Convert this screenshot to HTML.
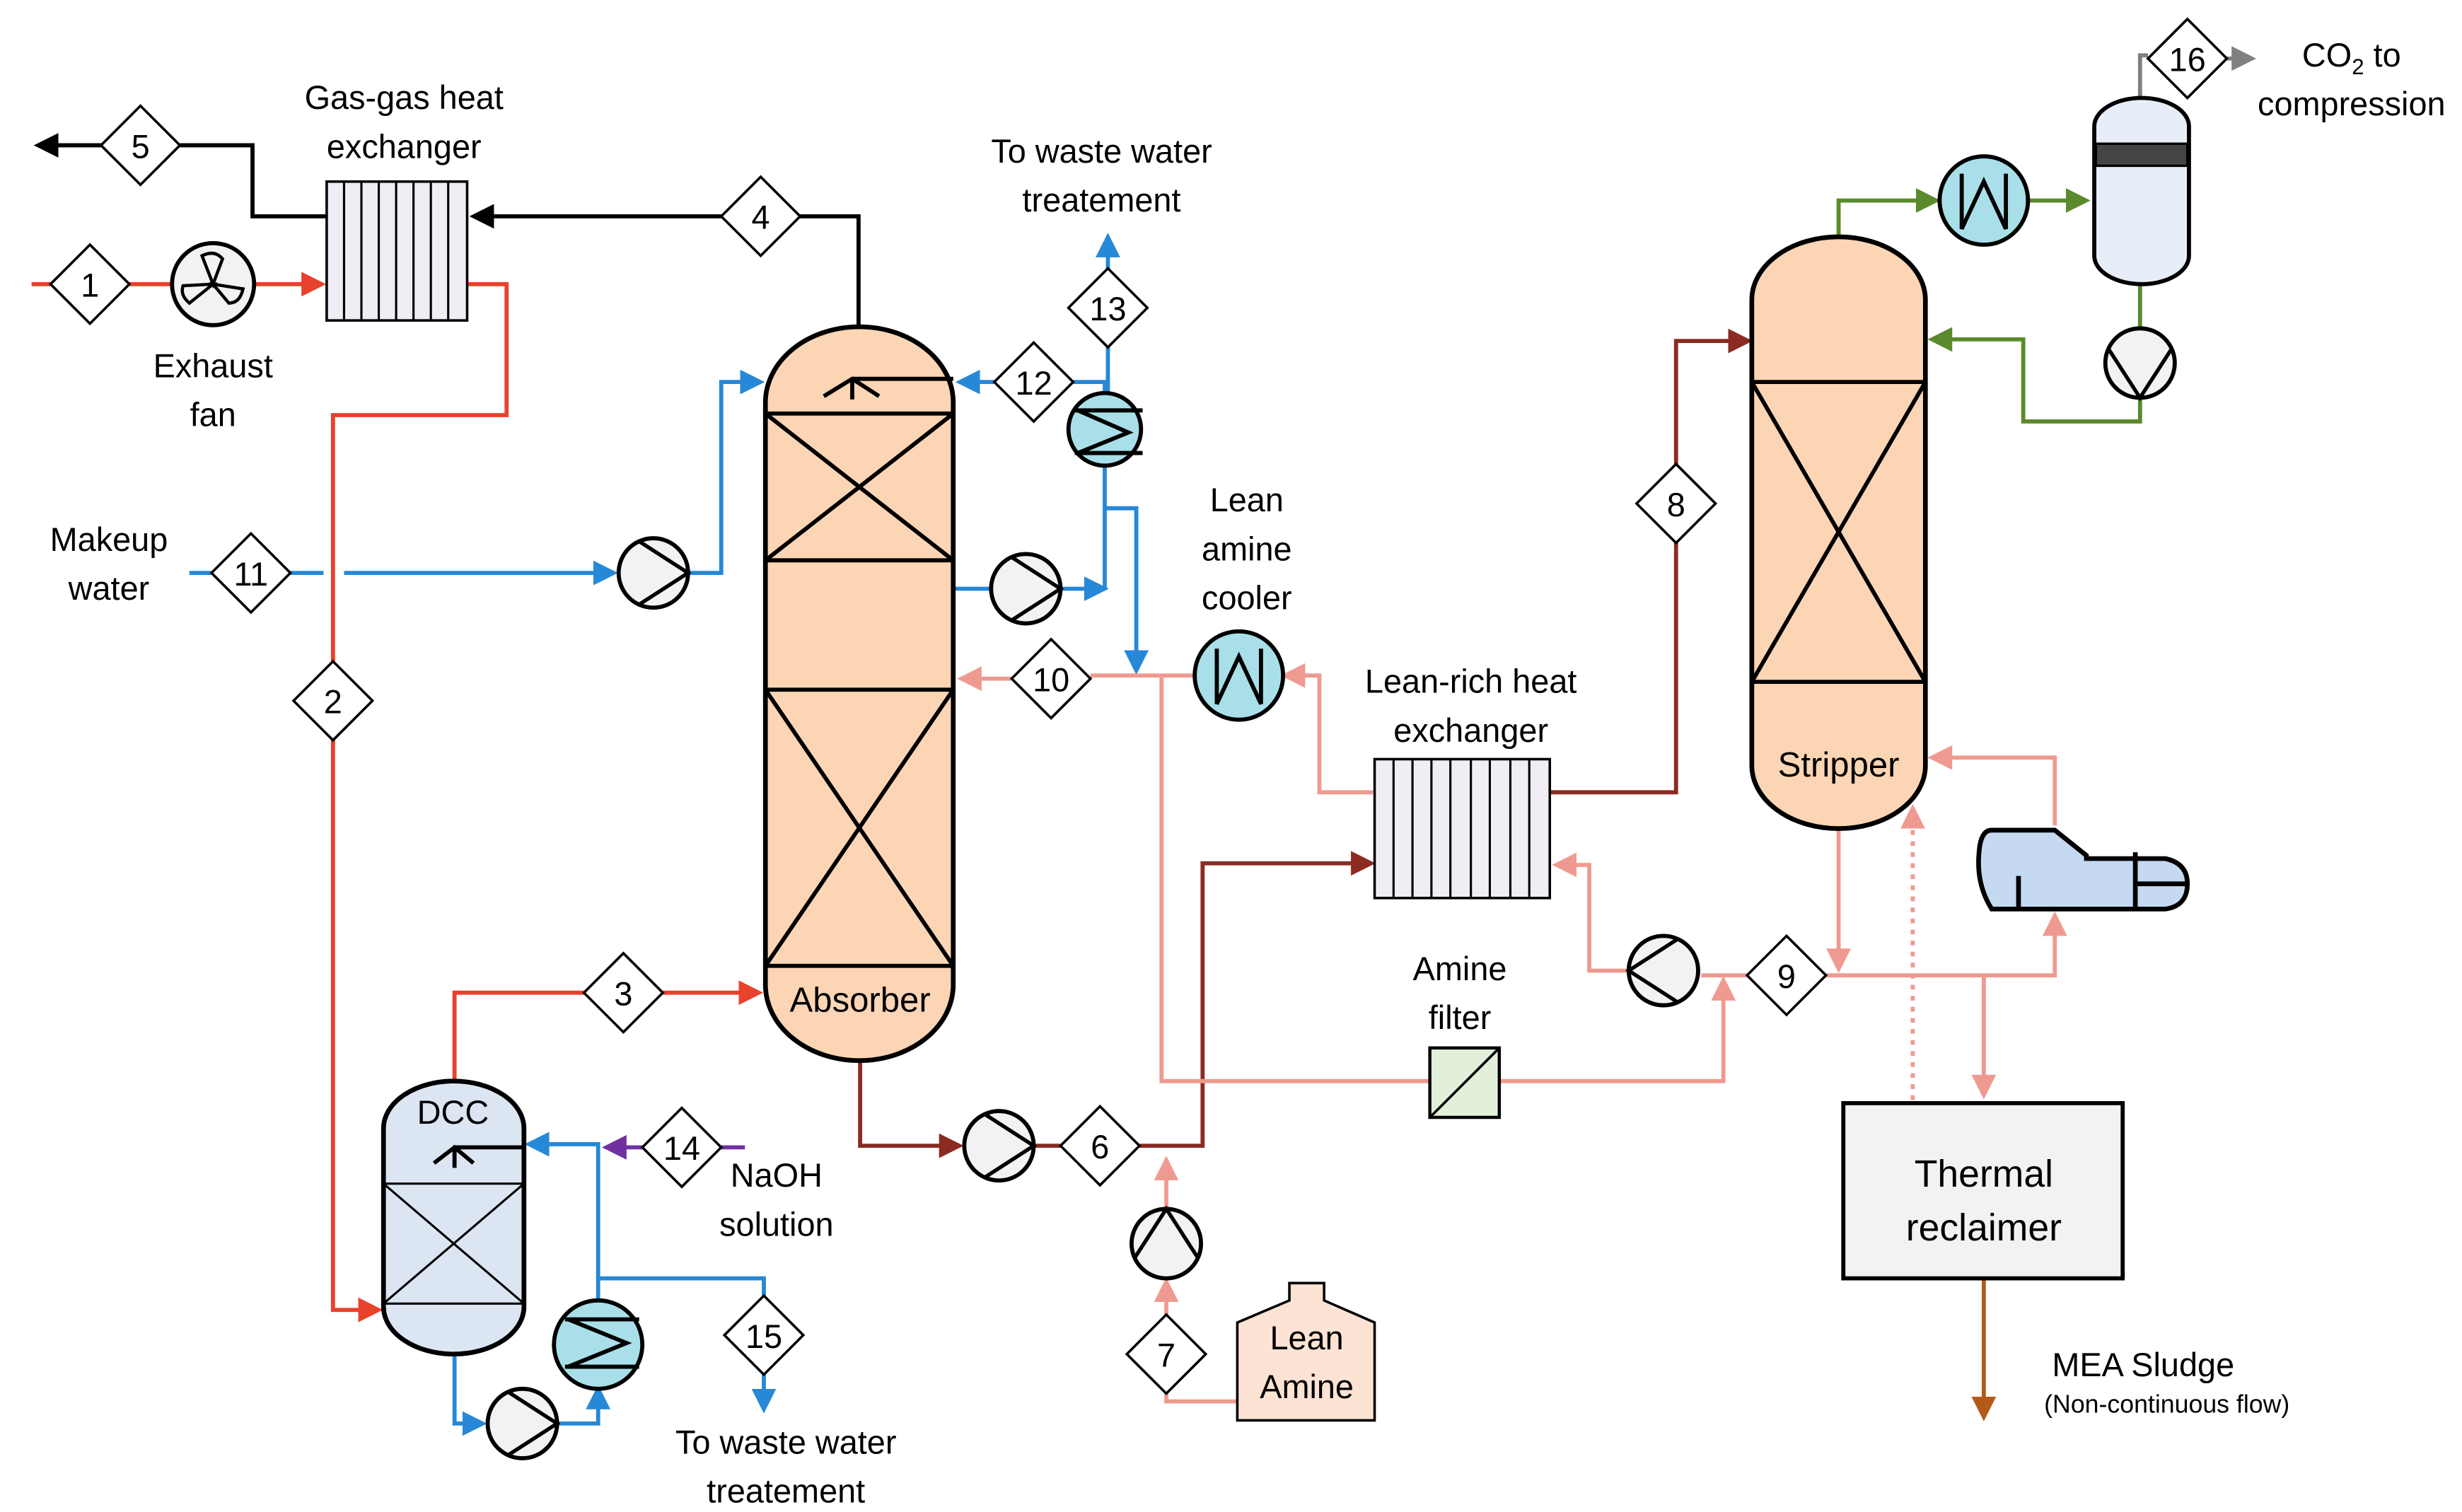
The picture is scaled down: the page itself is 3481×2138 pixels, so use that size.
<!DOCTYPE html>
<html><head><meta charset="utf-8"><style>html,body{margin:0;padding:0;background:#fff}svg{display:block}</style></head>
<body>
<svg width="3481" height="2138" viewBox="0 0 1560 958" xmlns="http://www.w3.org/2000/svg" font-family="Liberation Sans, sans-serif">
<defs>
<marker id="aK" markerWidth="6" markerHeight="6" refX="5" refY="3" orient="auto" markerUnits="strokeWidth"><path d="M0,0L6,3L0,6z" fill="#000"/></marker>
<marker id="aR" markerWidth="6" markerHeight="6" refX="5" refY="3" orient="auto" markerUnits="strokeWidth"><path d="M0,0L6,3L0,6z" fill="#e8412c"/></marker>
<marker id="aB" markerWidth="6" markerHeight="6" refX="5" refY="3" orient="auto" markerUnits="strokeWidth"><path d="M0,0L6,3L0,6z" fill="#2688d6"/></marker>
<marker id="aD" markerWidth="6" markerHeight="6" refX="5" refY="3" orient="auto" markerUnits="strokeWidth"><path d="M0,0L6,3L0,6z" fill="#8b2b22"/></marker>
<marker id="aP" markerWidth="6" markerHeight="6" refX="5" refY="3" orient="auto" markerUnits="strokeWidth"><path d="M0,0L6,3L0,6z" fill="#ef9a90"/></marker>
<marker id="aG" markerWidth="6" markerHeight="6" refX="5" refY="3" orient="auto" markerUnits="strokeWidth"><path d="M0,0L6,3L0,6z" fill="#5a8a2c"/></marker>
<marker id="aV" markerWidth="6" markerHeight="6" refX="5" refY="3" orient="auto" markerUnits="strokeWidth"><path d="M0,0L6,3L0,6z" fill="#7030a0"/></marker>
<marker id="aY" markerWidth="6" markerHeight="6" refX="5" refY="3" orient="auto" markerUnits="strokeWidth"><path d="M0,0L6,3L0,6z" fill="#808080"/></marker>
<marker id="aO" markerWidth="6" markerHeight="6" refX="5" refY="3" orient="auto" markerUnits="strokeWidth"><path d="M0,0L6,3L0,6z" fill="#b35a1a"/></marker>
<g id="dia"><path d="M0,-25L25,0L0,25L-25,0z" fill="#fff" stroke="#000" stroke-width="1.6"/></g>
<g id="pump"><circle r="22" fill="#f2f2f2" stroke="#000" stroke-width="2.6"/><path d="M-9,-20L22,0L-9,20" fill="none" stroke="#000" stroke-width="2.4"/></g>
</defs>
<g fill="none" stroke-width="2.6">
<path d="M65,92H24" stroke="#000" marker-end="url(#aK)"/>
<path d="M114,92H160V137H207" stroke="#000"/>
<path d="M544,207V137H507M457,137H300" stroke="#000" marker-end="url(#aK)"/>
<path d="M20,180H32M82,180H108M162,180H204" stroke="#e8412c" marker-end="url(#aR)"/>
<path d="M296,180H321V263H211V419M211,469V830H240" stroke="#e8412c" marker-end="url(#aR)"/>
<path d="M288,685V629H370M420,629H481" stroke="#e8412c" marker-end="url(#aR)"/>
<path d="M120,363H134M184,363H205M218,363H389" stroke="#2688d6" marker-end="url(#aB)"/>
<path d="M437,363H457V242H482" stroke="#2688d6" marker-end="url(#aB)"/>
<path d="M700,248V242H680M630,242H608" stroke="#2688d6" marker-end="url(#aB)"/>
<path d="M702,220V248M702,170V150" stroke="#2688d6" marker-end="url(#aB)"/>
<path d="M604,373H628M672,373H700" stroke="#2688d6" marker-end="url(#aB)"/>
<path d="M700,373V296M701,322H720V425" stroke="#2688d6" marker-end="url(#aB)"/>
<path d="M288,858V902H306" stroke="#2688d6" marker-end="url(#aB)"/>
<path d="M353,902H379V880" stroke="#2688d6" marker-end="url(#aB)"/>
<path d="M379,824V725H335" stroke="#2688d6" marker-end="url(#aB)"/>
<path d="M379,810H484V821M484,871V893" stroke="#2688d6" marker-end="url(#aB)"/>
<path d="M472,727H457M407,727H384" stroke="#7030a0" marker-end="url(#aV)"/>
<path d="M545,672V726H608" stroke="#8b2b22" marker-end="url(#aD)"/>
<path d="M655,726H672M722,726H762V547H869" stroke="#8b2b22" marker-end="url(#aD)"/>
<path d="M982,502H1062V344M1062,294V216H1108" stroke="#8b2b22" marker-end="url(#aD)"/>
<path d="M784,888H739V883M739,833V812" stroke="#ef9a90" marker-end="url(#aP)"/>
<path d="M739,765V735" stroke="#ef9a90" marker-end="url(#aP)"/>
<path d="M1165,525V614" stroke="#ef9a90" marker-end="url(#aP)"/>
<path d="M1157,618H1302V580" stroke="#ef9a90" marker-end="url(#aP)"/>
<path d="M1302,523V480H1224" stroke="#ef9a90" marker-end="url(#aP)"/>
<path d="M1257,618V694" stroke="#ef9a90" marker-end="url(#aP)"/>
<path d="M1107,618H1078" stroke="#ef9a90"/>
<path d="M1031,615H1007V548H986" stroke="#ef9a90" marker-end="url(#aP)"/>
<path d="M736,428V685H906M950,685H1092V621" stroke="#ef9a90" marker-end="url(#aP)"/>
<path d="M870,502H836V428H814" stroke="#ef9a90" marker-end="url(#aP)"/>
<path d="M757,428H691M641,430H609" stroke="#ef9a90" marker-end="url(#aP)"/>
<path d="M1212,697V512" stroke="#ef9a90" stroke-dasharray="3,4" marker-end="url(#aP)"/>
<path d="M1257,810V898" stroke="#b35a1a" marker-end="url(#aO)"/>
<path d="M1165,150V127H1227" stroke="#5a8a2c" marker-end="url(#aG)"/>
<path d="M1285,127H1322" stroke="#5a8a2c" marker-end="url(#aG)"/>
<path d="M1356,180V208M1356,252V267H1282V215H1224" stroke="#5a8a2c" marker-end="url(#aG)"/>
<path d="M1356,62V35H1361M1411,37H1427" stroke="#808080" marker-end="url(#aY)"/>
</g>
<rect x="207" y="115" width="89" height="88" fill="#f0eef4" stroke="#000" stroke-width="1.6"/>
<path d="M218,115V203M229,115V203M240,115V203M251,115V203M262,115V203M273,115V203M284,115V203" stroke="#000" stroke-width="1.4"/>
<rect x="871" y="481" width="111" height="88" fill="#f0eef4" stroke="#000" stroke-width="1.6"/>
<path d="M883,481V569M895,481V569M907,481V569M919,481V569M932,481V569M944,481V569M957,481V569M969,481V569" stroke="#000" stroke-width="1.4"/>
<circle cx="135" cy="180" r="26" fill="#f2f2f2" stroke="#000" stroke-width="2.6"/>
<g fill="none" stroke="#000" stroke-width="2"><path d="M135,180L128,162Q136,158 141,164z M135,180L154,183Q152,192 145,192z M135,180L120,192Q114,187 116,181z"/></g>
<rect x="485" y="207" width="119" height="465" rx="59.5" ry="48" fill="#fcd5b5" stroke="#000" stroke-width="3"/>
<path d="M485,262H604M485,355H604M485,437H604M485,612H604M485,262L604,355M604,262L485,355M485,437L604,612M604,437L485,612" stroke="#000" stroke-width="2.6"/>
<path d="M604,240H540M522,251L540,240L557,251M540,240V253" fill="none" stroke="#000" stroke-width="2.6"/>
<rect x="1110" y="150" width="110" height="375" rx="55" ry="40" fill="#fcd5b5" stroke="#000" stroke-width="3"/>
<path d="M1110,242H1220M1110,432H1220M1110,242L1220,432M1220,242L1110,432" stroke="#000" stroke-width="2.6"/>
<rect x="243" y="685" width="89" height="173" rx="44.5" ry="30" fill="#dce6f2" stroke="#000" stroke-width="3"/>
<path d="M243,750H332M243,826H332M243,750L332,826M332,750L243,826" stroke="#000" stroke-width="1.4"/>
<path d="M332,727H288M275,737L288,727L300,737M288,727V740" fill="none" stroke="#000" stroke-width="2.6"/>
<rect x="1327" y="62" width="60" height="118" rx="30" ry="18" fill="#e8eef7" stroke="#000" stroke-width="2.6"/>
<rect x="1328" y="91" width="58" height="14" fill="#444" stroke="#000" stroke-width="1.5"/>
<g stroke="#000" stroke-width="2.6" fill="#a9dfe9">
<circle cx="1257" cy="127" r="28"/><circle cx="700" cy="272" r="23"/><circle cx="785" cy="428" r="28"/><circle cx="379" cy="852" r="28"/>
</g>
<g fill="none" stroke="#000" stroke-width="2.6">
<path d="M1243,110V145L1257,115L1271,145V110"/>
<path d="M771,411V446L785,416L799,446V411"/>
<path d="M681,260H724M681,287H724M683,260L715,274L683,287"/>
<path d="M358,836H405M358,866H405M360,836L397,851L360,866"/>
</g>
<use href="#pump" x="414" y="363"/>
<use href="#pump" x="650" y="373"/>
<use href="#pump" x="633" y="726"/>
<use href="#pump" x="331" y="902"/>
<use href="#pump" transform="translate(739,788) rotate(-90)"/>
<use href="#pump" transform="translate(1054,615) rotate(180)"/>
<use href="#pump" transform="translate(1356,230) rotate(90)"/>
<rect x="906" y="664" width="44" height="44" fill="#e2efd9" stroke="#000" stroke-width="2"/>
<path d="M906,708L950,664" stroke="#000" stroke-width="1.6"/>
<rect x="1168" y="699" width="177" height="111" fill="#f2f2f2" stroke="#000" stroke-width="2.6"/>
<path d="M1262,526H1302L1322,542V544H1372Q1386,547 1386,560Q1386,574 1372,576H1262Q1252,560 1254,540Q1255,526 1262,526z" fill="#c5daf0" stroke="#000" stroke-width="3"/>
<path d="M1279,576V555M1353,576V540M1353,560H1386" stroke="#000" stroke-width="3"/>
<path d="M784,900V838L817,824V813H839V824L871,838V900z" fill="#fde3d3" stroke="#000" stroke-width="1.6"/>
<use href="#dia" x="89" y="92"/><use href="#dia" x="57" y="180"/><use href="#dia" x="211" y="444"/>
<use href="#dia" x="395" y="629"/><use href="#dia" x="482" y="137"/><use href="#dia" x="697" y="726"/>
<use href="#dia" x="739" y="858"/><use href="#dia" x="1062" y="319"/><use href="#dia" x="1132" y="618"/>
<use href="#dia" x="666" y="430"/><use href="#dia" x="159" y="363"/><use href="#dia" x="655" y="242"/>
<use href="#dia" x="702" y="195"/><use href="#dia" x="432" y="727"/><use href="#dia" x="484" y="846"/>
<use href="#dia" x="1386" y="37"/>
<g font-size="21" text-anchor="middle" fill="#000">
<text x="89" y="100">5</text><text x="57" y="188">1</text><text x="211" y="452">2</text>
<text x="395" y="637">3</text><text x="482" y="145">4</text><text x="697" y="734">6</text>
<text x="739" y="866">7</text><text x="1062" y="327">8</text><text x="1132" y="626">9</text>
<text x="666" y="438">10</text><text x="159" y="371">11</text><text x="655" y="250">12</text>
<text x="702" y="203">13</text><text x="432" y="735">14</text><text x="484" y="854">15</text>
<text x="1386" y="45">16</text>
<text x="256" y="69">Gas-gas heat</text><text x="256" y="100">exchanger</text>
<text x="135" y="239">Exhaust</text><text x="135" y="270">fan</text>
<text x="69" y="349">Makeup</text><text x="69" y="380">water</text>
<text x="698" y="103">To waste water</text><text x="698" y="134">treatement</text>
<text x="790" y="324">Lean</text><text x="790" y="355">amine</text><text x="790" y="386">cooler</text>
<text x="932" y="439">Lean-rich heat</text><text x="932" y="470">exchanger</text>
<text x="925" y="621">Amine</text><text x="925" y="652">filter</text>
<text x="545" y="641" font-size="22">Absorber</text>
<text x="1165" y="492" font-size="22">Stripper</text>
<text x="287" y="712">DCC</text>
<text x="492" y="752">NaOH</text><text x="492" y="783">solution</text>
<text x="498" y="921">To waste water</text><text x="498" y="952">treatement</text>
<text x="828" y="855">Lean</text><text x="828" y="886">Amine</text>
<text x="1257" y="752" font-size="24">Thermal</text><text x="1257" y="786" font-size="24">reclaimer</text>
<text x="1358" y="872">MEA Sludge</text>
<text x="1373" y="895" font-size="16">(Non-continuous flow)</text>
<text x="1490" y="42">CO<tspan font-size="14" dy="5">2</tspan><tspan dy="-5"> to</tspan></text>
<text x="1490" y="73">compression</text>
</g>
</svg>
</body></html>
